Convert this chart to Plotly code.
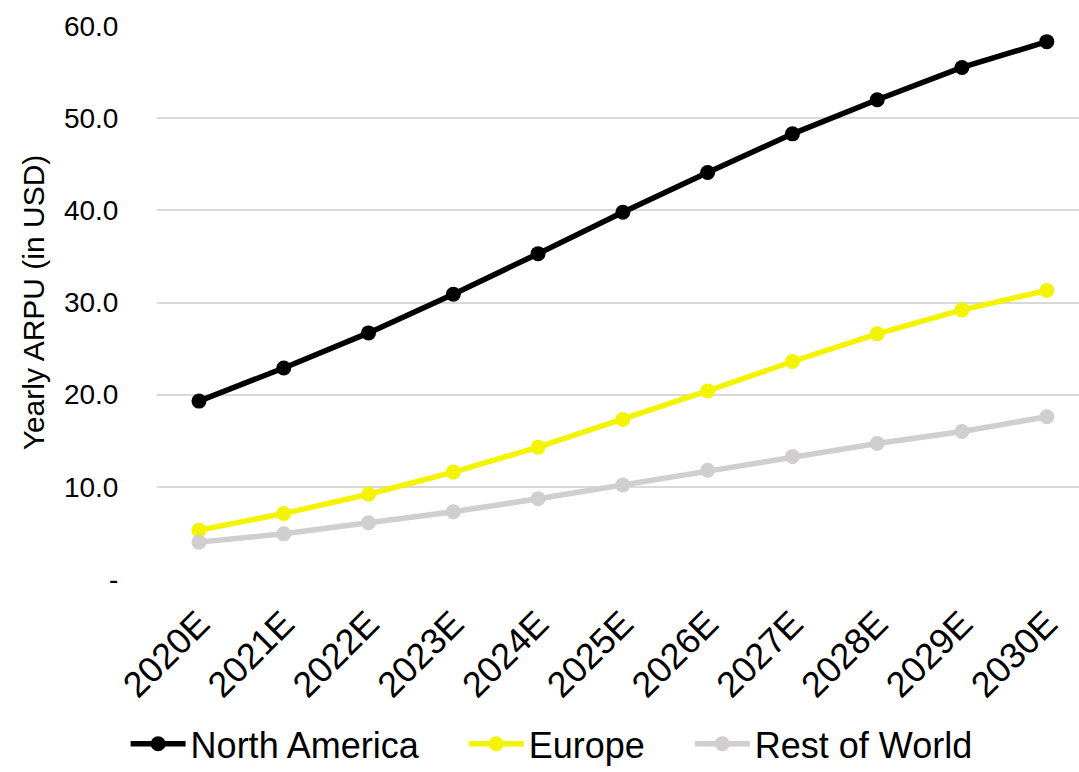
import plotly.graph_objects as go

years = ["2020E", "2021E", "2022E", "2023E", "2024E", "2025E",
         "2026E", "2027E", "2028E", "2029E", "2030E"]

north_america = [19.3, 22.9, 26.7, 30.9, 35.3, 39.8, 44.1, 48.3, 52.0, 55.5, 58.3]
europe = [5.3, 7.1, 9.2, 11.6, 14.3, 17.3, 20.4, 23.6, 26.6, 29.2, 31.3]
rest_of_world = [4.0, 4.9, 6.1, 7.3, 8.7, 10.2, 11.8, 13.3, 14.7, 16.0, 17.6]

y_ticks = [0, 10, 20, 30, 40, 50, 60]
y_tick_text = ["-", "10.0", "20.0", "30.0", "40.0", "50.0", "60.0"]

FONT = "Liberation Sans, Arial, sans-serif"
PAD = "\u00a0" * 4  # extra room after each legend entry

series = [
    ("North America", north_america, "#000000"),
    ("Europe", europe, "#F4F400"),
    ("Rest of World", rest_of_world, "#D0CECE"),
]

fig = go.Figure()
for i, (name, values, color) in enumerate(series):
    label = name if i == len(series) - 1 else name + PAD
    fig.add_trace(go.Scatter(
        x=years, y=values, name=label, mode="lines+markers",
        line=dict(color=color, width=5.5),
        marker=dict(color=color, size=15),
    ))

fig.update_layout(
    width=1079, height=772,
    margin=dict(l=157, r=0, t=26, b=193, autoexpand=False),
    paper_bgcolor="white", plot_bgcolor="white",
    font=dict(family=FONT, color="#000000"),
    showlegend=True,
    legend=dict(
        orientation="h", x=0.428, xanchor="center", y=-0.298, yanchor="middle",
        font=dict(size=36, family=FONT), itemwidth=55,
        traceorder="normal", bgcolor="rgba(0,0,0,0)",
    ),
    xaxis=dict(
        type="category", range=[-0.495, 10.38],
        tickangle=-45, tickfont=dict(size=36, family=FONT),
        showgrid=False, zeroline=False, showline=False,
        ticks="outside", ticklen=8, tickcolor="rgba(0,0,0,0)",
        automargin=False,
    ),
    yaxis=dict(
        range=[0, 60], tickvals=y_ticks, ticktext=y_tick_text,
        tickfont=dict(size=28, family=FONT),
        showgrid=True, gridcolor="#D9D9D9", gridwidth=1.5,
        zeroline=False, showline=False,
        ticks="outside", ticklen=32, tickcolor="rgba(0,0,0,0)",
        title=dict(text="Yearly ARPU (in USD)", font=dict(size=30, family=FONT), standoff=10),
        automargin=False,
    ),
)

fig.write_html("out.html")
